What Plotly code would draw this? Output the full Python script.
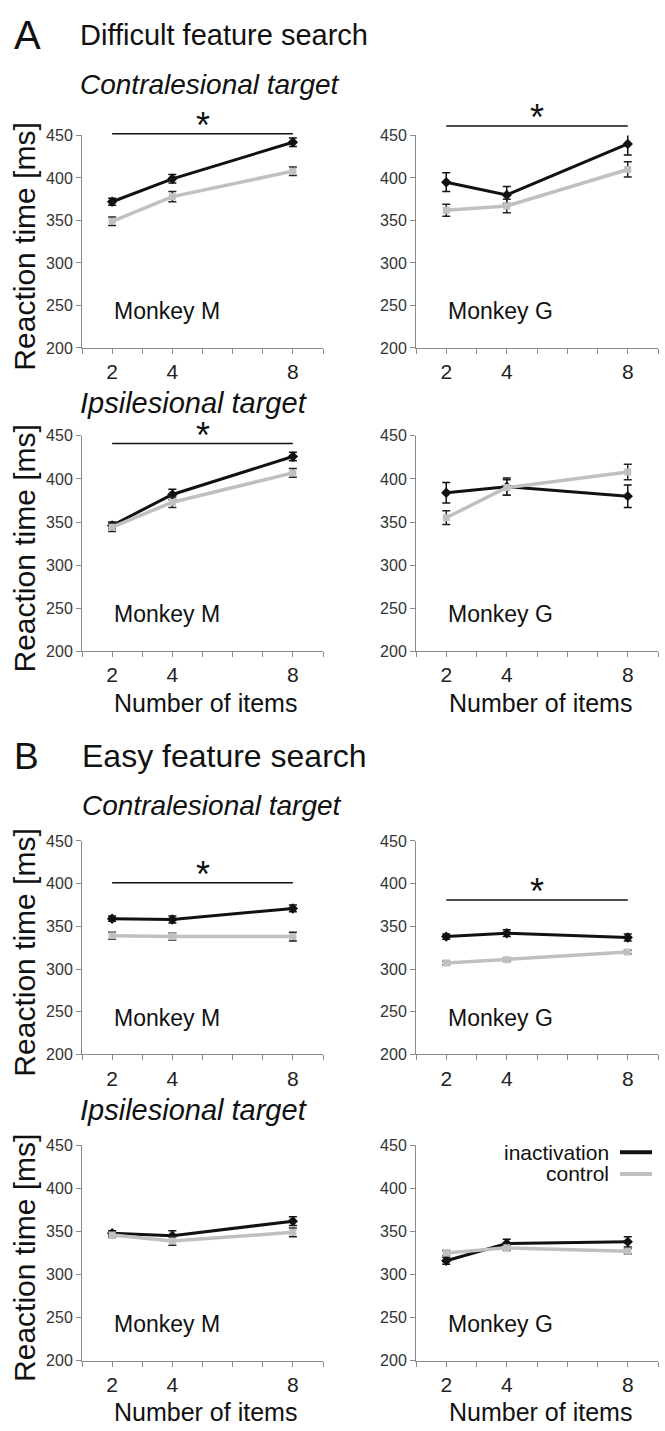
import plotly.graph_objects as go

# ---------------- data ----------------
items = [2, 4, 8]

# A: Difficult feature search
a_contra_m_inact = [372, 399, 442]; a_contra_m_inact_err = [4, 5, 5]
a_contra_m_ctrl = [349, 378, 408];  a_contra_m_ctrl_err = [5, 6, 5]
a_contra_g_inact = [395, 380, 440]; a_contra_g_inact_err = [11, 10, 13]
a_contra_g_ctrl = [362, 367, 410];  a_contra_g_ctrl_err = [7, 8, 9]
a_ipsi_m_inact = [346, 382, 426];   a_ipsi_m_inact_err = [4, 6, 5]
a_ipsi_m_ctrl = [344, 373, 407];    a_ipsi_m_ctrl_err = [5, 6, 5]
a_ipsi_g_inact = [384, 391, 380];   a_ipsi_g_inact_err = [12, 10, 13]
a_ipsi_g_ctrl = [355, 390, 408];    a_ipsi_g_ctrl_err = [8, 9, 9]
# B: Easy feature search
b_contra_m_inact = [359, 358, 371]; b_contra_m_inact_err = [3, 4, 4]
b_contra_m_ctrl = [339, 338, 338];  b_contra_m_ctrl_err = [4, 4, 5]
b_contra_g_inact = [338, 342, 337]; b_contra_g_inact_err = [3, 4, 4]
b_contra_g_ctrl = [307, 311, 320];  b_contra_g_ctrl_err = [2, 2, 2]
b_ipsi_m_inact = [348, 345, 362];   b_ipsi_m_inact_err = [3, 6, 5]
b_ipsi_m_ctrl = [346, 339, 349];    b_ipsi_m_ctrl_err = [3, 5, 5]
b_ipsi_g_inact = [316, 336, 338];   b_ipsi_g_inact_err = [4, 5, 6]
b_ipsi_g_ctrl = [325, 331, 327];    b_ipsi_g_ctrl_err = [3, 3, 3]

monkeys = ["Monkey M", "Monkey G", "Monkey M", "Monkey G",
           "Monkey M", "Monkey G", "Monkey M", "Monkey G"]
# significance bar (y level, ms) per panel, None = no bar
sig_levels = [452, 461, 441, None, 401, 381, None, None]

y_range = [200, 450]
y_ticks = [200, 250, 300, 350, 400, 450]
x_range = [1, 9]
x_tickvals = [1, 2, 3, 4, 5, 6, 7, 8, 9]
x_ticktext = ["", "2", "", "4", "", "", "", "8", ""]

panels = [
    (a_contra_m_inact, a_contra_m_inact_err, a_contra_m_ctrl, a_contra_m_ctrl_err),
    (a_contra_g_inact, a_contra_g_inact_err, a_contra_g_ctrl, a_contra_g_ctrl_err),
    (a_ipsi_m_inact, a_ipsi_m_inact_err, a_ipsi_m_ctrl, a_ipsi_m_ctrl_err),
    (a_ipsi_g_inact, a_ipsi_g_inact_err, a_ipsi_g_ctrl, a_ipsi_g_ctrl_err),
    (b_contra_m_inact, b_contra_m_inact_err, b_contra_m_ctrl, b_contra_m_ctrl_err),
    (b_contra_g_inact, b_contra_g_inact_err, b_contra_g_ctrl, b_contra_g_ctrl_err),
    (b_ipsi_m_inact, b_ipsi_m_inact_err, b_ipsi_m_ctrl, b_ipsi_m_ctrl_err),
    (b_ipsi_g_inact, b_ipsi_g_inact_err, b_ipsi_g_ctrl, b_ipsi_g_ctrl_err),
]

# ---------------- layout geometry ----------------
W, H = 665, 1431
FONT = "Liberation Sans, Arial, sans-serif"
BLACK = "#111111"
GRAY = "#c0c0c0"
AXC = "#8a8a8a"

col_px = [(82, 323), (416, 658)]
row_px = [(129, 344), (433, 651), (843, 1059), (1151, 1369)]

def xdom(c):
    return [col_px[c][0] / W, col_px[c][1] / W]

def ydom(r):
    return [1 - row_px[r][1] / H, 1 - row_px[r][0] / H]

def y_to_domain(v):
    # position of a data value along the y axis, as a fraction of the axis domain
    return (v - y_range[0]) / (y_range[1] - y_range[0])

def x_to_domain(v):
    return (v - x_range[0]) / (x_range[1] - x_range[0])

fig = go.Figure()
layout = dict(
    width=W, height=H, margin=dict(l=0, r=0, t=0, b=0),
    paper_bgcolor="white", plot_bgcolor="white",
    showlegend=False, font=dict(family=FONT, color="#222"),
)
annotations = []
shapes = []

for i, (inact, inact_err, ctrl, ctrl_err) in enumerate(panels):
    r, c = divmod(i, 2)
    n = i + 1
    xa = "x" if n == 1 else f"x{n}"
    ya = "y" if n == 1 else f"y{n}"
    fig.add_trace(go.Scatter(
        x=items, y=inact, xaxis=xa, yaxis=ya, mode="lines+markers",
        line=dict(color=BLACK, width=3),
        marker=dict(symbol="diamond", size=8, color=BLACK),
        error_y=dict(type="data", array=inact_err, color=BLACK, thickness=1.5, width=4),
        name="inactivation"))
    fig.add_trace(go.Scatter(
        x=items, y=ctrl, xaxis=xa, yaxis=ya, mode="lines+markers",
        line=dict(color=GRAY, width=3.5),
        marker=dict(symbol="square", size=7, color=GRAY),
        error_y=dict(type="data", array=ctrl_err, color="#222222", thickness=1.5, width=4),
        name="control"))
    xkey = "xaxis" if n == 1 else f"xaxis{n}"
    ykey = "yaxis" if n == 1 else f"yaxis{n}"
    layout[xkey] = dict(
        domain=xdom(c), anchor=ya, range=x_range, tickmode="array",
        tickvals=x_tickvals, ticktext=x_ticktext, ticks="outside", ticklen=5,
        tickcolor=AXC, showline=True, linecolor=AXC, linewidth=1,
        showgrid=False, zeroline=False, ticklabelstandoff=0,
        tickfont=dict(size=21, color="#222"))
    layout[ykey] = dict(
        domain=ydom(r), anchor=xa, range=y_range, tickmode="array",
        tickvals=y_ticks, ticks="outside", ticklen=5, tickcolor=AXC,
        showline=True, linecolor=AXC, linewidth=1, showgrid=False,
        zeroline=False, tickfont=dict(size=16, color="#333"))
    # monkey label
    annotations.append(dict(text=monkeys[i], x=2, y=243, xref=xa, yref=ya,
                            xanchor="left", yanchor="middle", showarrow=False,
                            font=dict(size=23, color="#111")))
    # significance bar (drawn in axis-domain units so it may sit above the top tick)
    if sig_levels[i] is not None:
        yd = y_to_domain(sig_levels[i])
        shapes.append(dict(type="line", xref=f"{xa} domain", yref=f"{ya} domain",
                           x0=x_to_domain(items[0]), x1=x_to_domain(items[-1]),
                           y0=yd, y1=yd, line=dict(color=BLACK, width=1.5)))
        annotations.append(dict(text="*", x=x_to_domain(5), y=yd,
                                xref=f"{xa} domain", yref=f"{ya} domain",
                                xanchor="center", yanchor="bottom", yshift=-14,
                                showarrow=False, font=dict(size=36, color=BLACK)))
    # y title on left column
    if c == 0:
        cy = 1 - ((row_px[r][0] + row_px[r][1]) / 2 + 5) / H
        annotations.append(dict(text="Reaction time [ms]", x=25 / W, y=cy,
                                xref="paper", yref="paper", textangle=-90,
                                xanchor="center", yanchor="middle", showarrow=False,
                                font=dict(size=30, color="#111")))
    # x title on bottom rows of each section
    if r in (1, 3):
        cx = ((col_px[c][0] + col_px[c][1]) / 2 + 3) / W
        annotations.append(dict(text="Number of items", x=cx,
                                y=1 - (row_px[r][1] + 52) / H,
                                xref="paper", yref="paper", xanchor="center",
                                yanchor="middle", showarrow=False,
                                font=dict(size=25, color="#111")))

def ptxt(text, xpx, ypx, size, italic=False, anchor="left"):
    annotations.append(dict(text=text, x=xpx / W, y=1 - ypx / H, xref="paper",
                            yref="paper", xanchor=anchor, yanchor="middle",
                            showarrow=False,
                            font=dict(size=size, color="#111",
                                      style="italic" if italic else "normal")))

ptxt("A", 12, 27, 40)
ptxt("Difficult feature search", 78, 27, 29)
ptxt("Contralesional target", 78, 77, 28, italic=True)
ptxt("Ipsilesional target", 78, 400, 29, italic=True)
ptxt("B", 12, 757, 37)
ptxt("Easy feature search", 80, 757, 32)
ptxt("Contralesional target", 80, 807, 28, italic=True)
ptxt("Ipsilesional target", 78, 1115, 29, italic=True)

# legend (text with line sample to the right)
legend_items = ["inactivation", "control"]
legend_colors = [BLACK, GRAY]
for k, (lab, col) in enumerate(zip(legend_items, legend_colors)):
    ypx = 1158 + 22 * k
    ptxt(lab, 611, ypx, 21, anchor="right")
    shapes.append(dict(type="line", xref="paper", yref="paper",
                       x0=620 / W, x1=652 / W, y0=1 - ypx / H, y1=1 - ypx / H,
                       line=dict(color=col, width=4)))

layout["annotations"] = annotations
layout["shapes"] = shapes
fig.update_layout(**layout)
fig.write_html("out.html",
               config={"displayModeBar": False},
               post_script="document.body.style.margin='0';document.body.style.overflow='hidden';")
